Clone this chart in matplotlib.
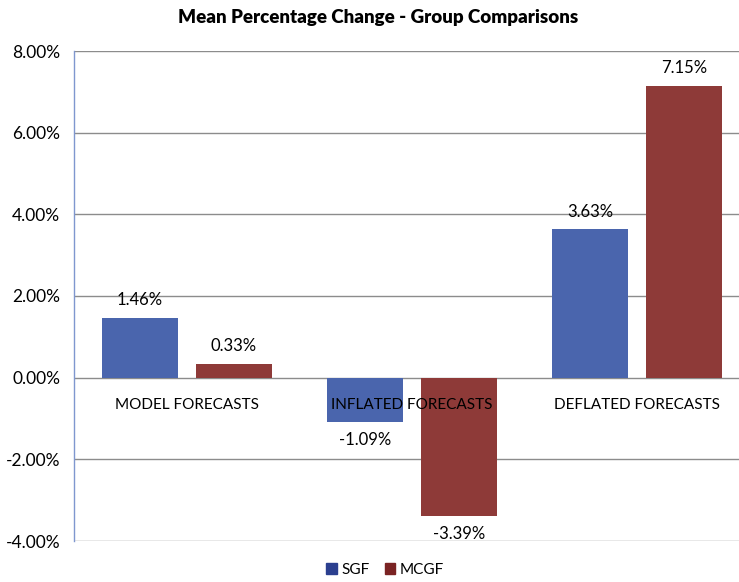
import matplotlib
matplotlib.use("Agg")
import matplotlib.pyplot as plt
import numpy as np
from matplotlib.ticker import FuncFormatter
from matplotlib.patches import Patch

categories = ["MODEL FORECASTS", "INFLATED FORECASTS", "DEFLATED FORECASTS"]
series_names = ["SGF", "MCGF"]
sgf = [1.46, -1.09, 3.63]
mcgf = [0.33, -3.39, 7.15]
yticks = [-4, -2, 0, 2, 4, 6, 8]

plt.rcParams['font.family'] = ['Lato', 'DejaVu Sans']

W, H = 739, 582
fig = plt.figure(figsize=(W/100, H/100), dpi=100)
left, right, top, bottom = 74, 750, 51, 541
ax = fig.add_axes([left/W, 1 - bottom/H, (right-left)/W, (bottom-top)/H])

x = np.arange(len(categories))
bw = 0.337
off = 0.208
c_sgf = "#4A65AD"
c_mcgf = "#8E3A38"
b1 = ax.bar(x - off, sgf, bw, color=c_sgf, zorder=3)
b2 = ax.bar(x + off, mcgf, bw, color=c_mcgf, zorder=3)

ax.set_xlim(-0.5, 2.5)
ax.set_ylim(-4, 8)
ax.set_yticks(yticks)
ax.yaxis.set_major_formatter(FuncFormatter(lambda v, p: f"{v:.2f}%"))
ax.tick_params(axis='y', length=0, labelsize=12.5, pad=10)
ax.set_xticks([])
ax.grid(axis='y', color="#8c8c8c", linewidth=1.0, zorder=1)
for s in ["top", "right"]:
    ax.spines[s].set_visible(False)
ax.spines["bottom"].set_visible(False)
ax.spines["left"].set_color("#7f97cf")
ax.spines["left"].set_linewidth(1.0)

for bars, vals in ((b1, sgf), (b2, mcgf)):
    for b, v in zip(bars, vals):
        cx = b.get_x() + b.get_width()/2
        if v >= 0:
            ax.annotate(f"{v:.2f}%", (cx, v), xytext=(0, 7), textcoords="offset points",
                        ha="center", va="bottom", fontsize=12, zorder=5)
        else:
            ax.annotate(f"{v:.2f}%", (cx, v), xytext=(0, -7), textcoords="offset points",
                        ha="center", va="top", fontsize=12, zorder=5)

for xi, c in zip(x, categories):
    ax.annotate(c, (xi, 0), xytext=(0, -20), textcoords="offset points",
                ha="center", va="center", fontsize=11, zorder=6)

fig.text(378/W, 1 - 17/H, "Mean Percentage Change - Group Comparisons",
         ha="center", va="center", fontsize=13.5, fontweight="heavy")

handles = [Patch(color="#2B3F8F"), Patch(color="#7A2323")]
fig.legend(handles, series_names, loc="center", bbox_to_anchor=(385/W, 1 - 570/H),
           ncol=2, frameon=False, fontsize=11, handlelength=0.7, handleheight=0.7,
           handletextpad=0.3, columnspacing=1.0)

fig.savefig("out.png", dpi=100)
